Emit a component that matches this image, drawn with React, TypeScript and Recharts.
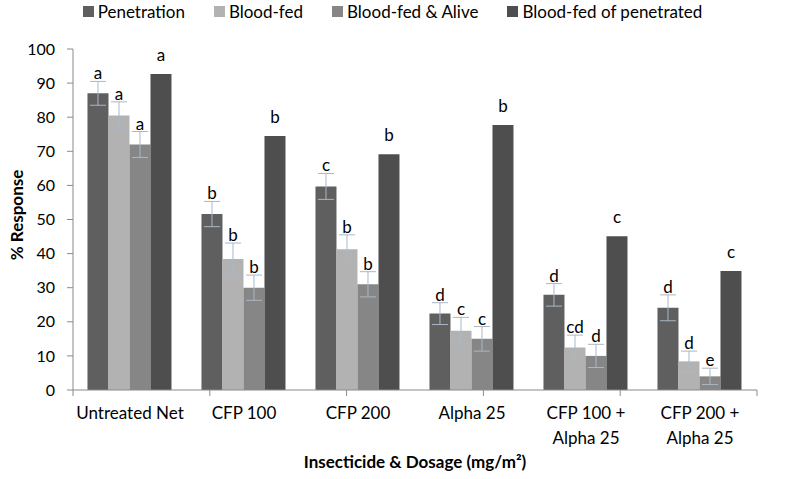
import React from "react";
import {
  BarChart,
  Bar,
  XAxis,
  YAxis,
  ErrorBar,
  LabelList,
  Legend,
} from "recharts";

const categories = [
  "Untreated Net",
  "CFP 100",
  "CFP 200",
  "Alpha 25",
  "CFP 100 +\nAlpha 25",
  "CFP 200 +\nAlpha 25",
];

const penetration = [87, 51.6, 59.7, 22.4, 27.9, 24.1];
const penetrationErr = [3.5, 3.7, 3.8, 3.2, 3.3, 3.8];
const penetrationLetters = ["a", "b", "c", "d", "d", "d"];

const bloodFed = [80.5, 38.4, 41.3, 17.4, 12.5, 8.4];
const bloodFedErr = [4.0, 4.7, 4.2, 3.9, 3.6, 3.0];
const bloodFedLetters = ["a", "b", "b", "c", "cd", "d"];

const bloodFedAlive = [72, 30, 31, 15, 10, 4];
const bloodFedAliveErr = [3.8, 3.7, 3.7, 3.6, 3.4, 2.4];
const bloodFedAliveLetters = ["a", "b", "b", "c", "d", "e"];

const bloodFedOfPen = [92.7, 74.5, 69.1, 77.7, 45.1, 34.9];
const bloodFedOfPenLetters = ["a", "b", "b", "b", "c", "c"];

const yTicks = [0, 10, 20, 30, 40, 50, 60, 70, 80, 90, 100];
const boundaryTicks = [0, 1, 2, 3, 4, 5, 6];

const seriesNames = [
  "Penetration",
  "Blood-fed",
  "Blood-fed & Alive",
  "Blood-fed of penetrated",
];
const colors = ["#5f5f5f", "#b2b2b2", "#868686", "#4e4e4e"];

const data = categories.map((c, i) => ({
  name: c,
  pen: penetration[i],
  penErr: penetrationErr[i],
  penL: penetrationLetters[i],
  bf: bloodFed[i],
  bfErr: bloodFedErr[i],
  bfL: bloodFedLetters[i],
  bfa: bloodFedAlive[i],
  bfaErr: bloodFedAliveErr[i],
  bfaL: bloodFedAliveLetters[i],
  bfp: bloodFedOfPen[i],
  bfpL: bloodFedOfPenLetters[i],
}));

const FONT = "Lato, 'Open Sans', sans-serif";
const AXIS = "#8a8a8a";
const ERR = "#a9b7c6";

const makeLabel =
  (vals: number[], errs: number[] | null) => (props: any) => {
    const { x, y, width, height, value, index } = props;
    const v = vals[index];
    const ppu = v ? Math.abs(height) / v : 0;
    const top = Math.min(y, y + height);
    const baseline = errs ? top - errs[index] * ppu - 2 : top - 13;
    return (
      <text
        x={x + width / 2}
        y={baseline}
        textAnchor="middle"
        fontFamily={FONT}
        fontSize={17}
        fill="#000"
      >
        {value}
      </text>
    );
  };

const XTick = (props: any) => {
  const { x, y, payload } = props;
  const lines = String(payload.value).split("\n");
  return (
    <text
      x={x}
      y={y}
      textAnchor="middle"
      fontFamily={FONT}
      fontSize={17}
      fill="#000"
    >
      {lines.map((l, i) => (
        <tspan key={i} x={x} dy={i === 0 ? 28 : 25}>
          {l}
        </tspan>
      ))}
    </text>
  );
};

const LegendContent = () => (
  <div
    style={{
      display: "flex",
      justifyContent: "center",
      alignItems: "center",
      height: 22,
      fontFamily: FONT,
      fontSize: 17,
      color: "#000",
    }}
  >
    {seriesNames.map((n, i) => (
      <div
        key={n}
        style={{
          display: "flex",
          alignItems: "center",
          marginRight: i < seriesNames.length - 1 ? 29 : 0,
        }}
      >
        <span
          style={{
            display: "inline-block",
            width: 11,
            height: 11,
            background: colors[i],
            marginRight: 4,
          }}
        />
        <span>{n}</span>
      </div>
    ))}
  </div>
);

const YTitle = () => (
  <text
    x={16}
    y={215}
    transform="rotate(-90 16 215)"
    textAnchor="middle"
    dominantBaseline="central"
    fontFamily={FONT}
    fontSize={17}
    fontWeight={700}
    fill="#000"
  >
    % Response
  </text>
);

export default function App() {
  return (
    <div style={{ position: "absolute", left: 0, top: 0, background: "#fff" }}>
      <BarChart
        width={785}
        height={479}
        data={data}
        margin={{ top: 27, right: 28, bottom: 28, left: 0 }}
        barCategoryGap="12.7%"
        barGap={0}
      >
        <Legend
          verticalAlign="top"
          content={<LegendContent />}
          wrapperStyle={{ top: 0, left: 0, width: 785, height: 22 }}
        />
        <XAxis
          xAxisId="bounds"
          type="number"
          domain={[0, 6]}
          ticks={boundaryTicks}
          allowDataOverflow
          interval={0}
          height={1}
          tickFormatter={() => ""}
          tickSize={6}
          tickMargin={0}
          axisLine={{ stroke: AXIS }}
          tickLine={{ stroke: AXIS }}
        />
        <XAxis
          xAxisId="cat"
          dataKey="name"
          height={60}
          axisLine={false}
          tickLine={false}
          tickSize={0}
          tickMargin={0}
          interval={0}
          tick={<XTick />}
          label={{
            value: "Insecticide & Dosage (mg/m²)",
            position: "bottom",
            offset: 5,
            style: {
              fontFamily: FONT,
              fontSize: 17,
              fontWeight: 700,
              fill: "#000",
            },
          }}
        />
        <YAxis
          width={73}
          domain={[0, 100]}
          ticks={yTicks}
          interval={0}
          tickSize={6}
          tickMargin={12}
          axisLine={{ stroke: AXIS }}
          tickLine={{ stroke: AXIS }}
          tick={{ fontFamily: FONT, fontSize: 16, fill: "#000" }}
          label={<YTitle />}
        />
        <Bar
          xAxisId="cat"
          dataKey="pen"
          name={seriesNames[0]}
          fill={colors[0]}
          isAnimationActive={false}
        >
          <ErrorBar dataKey="penErr" width={8} stroke={ERR} strokeWidth={1} direction="y" />
          <LabelList dataKey="penL" content={makeLabel(penetration, penetrationErr)} />
        </Bar>
        <Bar
          xAxisId="cat"
          dataKey="bf"
          name={seriesNames[1]}
          fill={colors[1]}
          isAnimationActive={false}
        >
          <ErrorBar dataKey="bfErr" width={8} stroke={ERR} strokeWidth={1} direction="y" />
          <LabelList dataKey="bfL" content={makeLabel(bloodFed, bloodFedErr)} />
        </Bar>
        <Bar
          xAxisId="cat"
          dataKey="bfa"
          name={seriesNames[2]}
          fill={colors[2]}
          isAnimationActive={false}
        >
          <ErrorBar dataKey="bfaErr" width={8} stroke={ERR} strokeWidth={1} direction="y" />
          <LabelList dataKey="bfaL" content={makeLabel(bloodFedAlive, bloodFedAliveErr)} />
        </Bar>
        <Bar
          xAxisId="cat"
          dataKey="bfp"
          name={seriesNames[3]}
          fill={colors[3]}
          isAnimationActive={false}
        >
          <LabelList dataKey="bfpL" content={makeLabel(bloodFedOfPen, null)} />
        </Bar>
      </BarChart>
    </div>
  );
}
